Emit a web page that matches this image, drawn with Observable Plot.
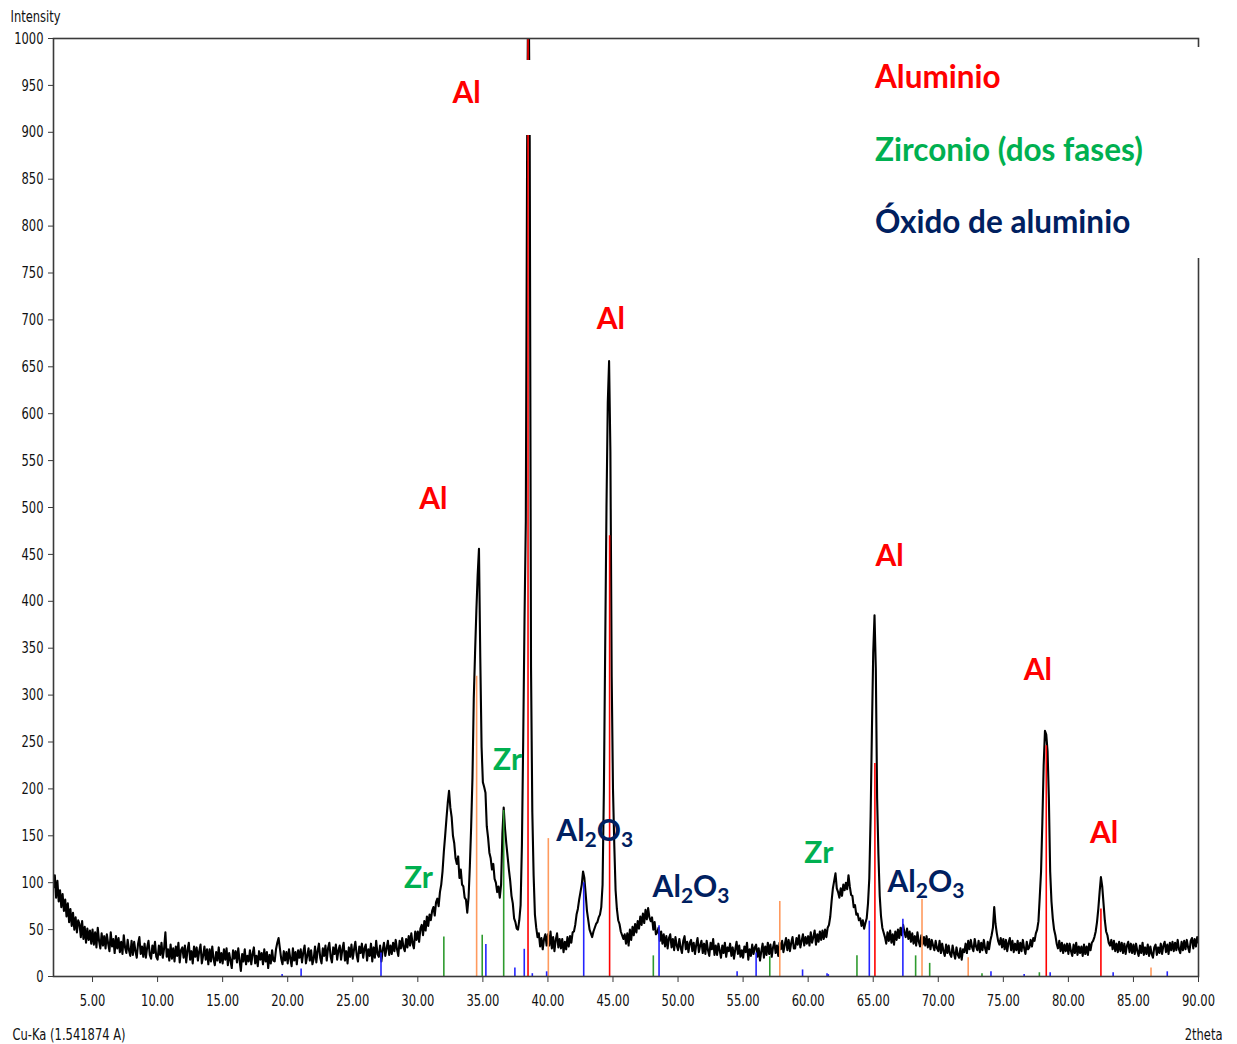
<!DOCTYPE html>
<html>
<head>
<meta charset="utf-8">
<script src="https://cdn.jsdelivr.net/npm/d3@7"></script>
<script src="https://cdn.jsdelivr.net/npm/@observablehq/plot@0.6"></script>
<style>
  body { margin: 0; background: #fff; }
  #chart { position: relative; width: 1237px; height: 1044px; }
  #legend {
    position: absolute; left: 866px; top: 47px; width: 371px; height: 211px;
    background: #fff; font-family: Lato, "Open Sans", sans-serif; font-weight: 700; font-size: 31.5px;
  }
  #legend div { position: absolute; left: 9px; line-height: 1; white-space: nowrap; }
  #peak-mask { position: absolute; left: 506px; top: 60px; width: 38px; height: 75px; background: #fff; }
</style>
</head>
<body>
<div id="chart">
  <div id="peak-mask"></div>
  <div id="legend">
    <div style="top:14px;color:#ff0000">Aluminio</div>
    <div style="top:87px;color:#00b050">Zirconio (dos fases)</div>
    <div style="top:159px;color:#002060">Óxido de aluminio</div>
  </div>
</div>
<script>
// Diffractogram, Cu-Ka radiation, scanned from 2.0° to 90.0° 2θ in 0.1° steps.
const thetaStart = 2.0;
const thetaStep = 0.1;
const counts = [
  95, 108, 84, 102, 80, 92, 74, 88, 70, 82,        // 2°
  64, 78, 58, 72, 54, 68, 50, 63, 47, 60,          // 3°
  56, 42, 59, 40, 53, 36, 51, 39, 49, 35,          // 4°
  50, 34, 47, 31, 52, 38, 30, 46, 33, 43,          // 5°
  30, 45, 35, 27, 47, 32, 40, 25, 43, 30,          // 6°
  41, 26, 37, 24, 44, 31, 25, 39, 28, 22,          // 7°
  38, 23, 37, 27, 20, 35, 42, 24, 32, 21,          // 8°
  35, 20, 31, 38, 23, 19, 33, 25, 37, 21,          // 9°
  18, 33, 23, 36, 20, 30, 47, 21, 29, 17,          // 10°
  34, 19, 30, 16, 32, 22, 36, 15, 28, 31,          // 11°
  20, 33, 15, 28, 36, 18, 27, 14, 32, 21,          // 12°
  31, 17, 27, 34, 14, 22, 32, 18, 29, 13,          // 13°
  29, 16, 32, 19, 12, 26, 17, 31, 15, 25,          // 14°
  14, 29, 18, 30, 12, 25, 17, 9, 28, 19,           // 15°
  27, 15, 30, 17, 6, 24, 16, 29, 13, 22,           // 16°
  16, 28, 13, 24, 31, 14, 22, 11, 27, 18,          // 17°
  25, 13, 29, 16, 26, 9, 23, 14, 28, 17,           // 18°
  16, 29, 36, 41, 30, 19, 13, 27, 17, 26,          // 19°
  14, 29, 19, 11, 30, 17, 26, 13, 28, 20,          // 20°
  29, 15, 26, 33, 14, 22, 30, 17, 28, 13,          // 21°
  19, 32, 15, 27, 35, 20, 14, 30, 22, 33,          // 22°
  17, 30, 36, 21, 15, 31, 24, 34, 18, 28,          // 23°
  33, 18, 29, 36, 17, 27, 14, 31, 21, 34,          // 24°
  19, 29, 37, 23, 16, 32, 25, 35, 20, 30,          // 25°
  34, 17, 29, 22, 35, 16, 31, 20, 38, 24,          // 26°
  21, 33, 16, 28, 36, 22, 30, 38, 23, 33,          // 27°
  24, 36, 27, 39, 29, 22, 38, 30, 41, 31,          // 28°
  27, 40, 31, 43, 33, 46, 35, 30, 48, 39,          // 29°
  48, 37, 51, 55, 44, 59, 49, 64, 54, 66,          // 30°
  60, 70, 74, 65, 79, 83, 75, 90, 98, 112,         // 31°
  133, 150, 168, 185, 198, 180, 170, 150, 142, 126, // 32°
  120, 128, 105, 114, 98, 96, 84, 82, 68, 84,      // 33°
  118, 160, 212, 296, 345, 390, 428, 456, 340, 245, // 34°
  207, 202, 196, 160, 148, 132, 126, 114, 120, 104, // 35°
  100, 90, 96, 84, 98, 152, 180, 158, 142, 128,    // 36°
  114, 102, 86, 78, 62, 58, 51, 50, 60, 76,        // 37°
  140, 252, 380, 485, 880, 1100, 890, 330, 175, 108, // 38°
  66, 52, 42, 46, 32, 41, 29, 40, 45, 33,          // 39°
  45, 33, 48, 30, 42, 27, 39, 46, 31, 40,          // 40°
  30, 40, 26, 37, 29, 42, 32, 43, 36, 47,          // 41°
  48, 55, 66, 72, 82, 90, 98, 112, 105, 88,        // 42°
  70, 60, 50, 46, 42, 48, 52, 56, 58, 63,          // 43°
  66, 74, 98, 198, 350, 500, 612, 656, 560, 320,   // 44°
  200, 140, 92, 72, 60, 56, 48, 44, 40, 45,        // 45°
  35, 46, 33, 50, 39, 53, 44, 56, 47, 59,          // 46°
  51, 64, 55, 67, 57, 71, 61, 73, 63, 59,          // 47°
  63, 50, 58, 45, 47, 52, 38, 48, 35, 45,          // 48°
  32, 43, 30, 41, 45, 31, 40, 28, 42, 33,          // 49°
  28, 40, 31, 25, 38, 43, 29, 37, 26, 36,          // 50°
  39, 27, 36, 24, 34, 41, 26, 33, 38, 25,          // 51°
  35, 24, 38, 28, 22, 36, 29, 40, 23, 33,          // 52°
  23, 35, 28, 20, 33, 25, 36, 21, 31, 27,          // 53°
  35, 22, 31, 19, 29, 37, 24, 33, 21, 28,          // 54°
  20, 32, 26, 36, 18, 29, 22, 34, 24, 31,          // 55°
  34, 21, 30, 17, 27, 35, 20, 32, 23, 36,          // 56°
  24, 34, 21, 31, 37, 25, 33, 22, 36, 29,          // 57°
  38, 26, 34, 41, 28, 39, 27, 36, 42, 30,          // 58°
  30, 41, 34, 44, 31, 38, 45, 33, 42, 35,          // 59°
  43, 33, 47, 36, 42, 49, 34, 45, 37, 48,          // 60°
  39, 49, 40, 50, 42, 52, 55, 64, 80, 94,          // 61°
  102, 110, 94, 90, 84, 94, 86, 98, 92, 100,       // 62°
  93, 108, 96, 87, 86, 74, 76, 66, 67, 60,         // 63°
  62, 54, 60, 51, 57, 62, 78, 105, 170, 262,       // 64°
  345, 385, 328, 190, 130, 86, 64, 52, 47, 42,     // 65°
  35, 47, 38, 49, 36, 45, 34, 48, 39, 50,          // 66°
  41, 52, 44, 55, 47, 42, 51, 40, 48, 37,          // 67°
  46, 35, 43, 33, 47, 37, 32, 44, 34, 42,          // 68°
  33, 43, 31, 40, 29, 39, 33, 28, 38, 30,          // 69°
  27, 38, 25, 35, 27, 22, 34, 25, 33, 24,          // 70°
  21, 33, 25, 19, 31, 23, 20, 30, 18, 29,          // 71°
  26, 35, 25, 38, 29, 39, 31, 27, 40, 32,          // 72°
  28, 38, 26, 36, 28, 39, 30, 25, 37, 29,          // 73°
  38, 44, 52, 74, 56, 46, 38, 34, 41, 31,          // 74°
  40, 29, 39, 27, 36, 41, 28, 38, 26, 35,          // 75°
  28, 38, 25, 36, 27, 39, 30, 24, 37, 29,          // 76°
  31, 39, 32, 41, 38, 46, 50, 59, 85, 112,         // 77°
  165, 225, 262, 258, 240, 190, 112, 80, 62, 50,   // 78°
  44, 35, 30, 38, 27, 36, 25, 34, 27, 35,          // 79°
  24, 35, 27, 22, 34, 25, 36, 23, 32, 25,          // 80°
  32, 22, 34, 24, 32, 23, 35, 28, 36, 38,          // 81°
  42, 48, 58, 72, 90, 106, 96, 78, 60, 48,         // 82°
  44, 36, 33, 39, 29, 38, 27, 35, 26, 37,          // 83°
  27, 36, 25, 35, 24, 33, 37, 26, 35, 25,          // 84°
  34, 24, 35, 27, 22, 33, 25, 36, 23, 31,          // 85°
  24, 34, 22, 32, 24, 20, 31, 34, 23, 31,          // 86°
  25, 35, 24, 33, 37, 26, 34, 24, 36, 28,          // 87°
  37, 27, 36, 28, 39, 29, 25, 37, 28, 38,          // 88°
  29, 39, 31, 26, 38, 41, 30, 40, 32, 42,          // 89°
  36                                                 // 90°
];

// Reference pattern lines per phase: [2θ, relative intensity]
const aluminioLines = [[38.47, 1000], [44.74, 470], [65.13, 227], [78.3, 246], [82.5, 72]];
const zirconioLines = [[32.0, 42], [34.95, 44], [36.6, 177], [48.1, 22], [57.05, 21], [63.75, 22],
                       [68.26, 22], [69.34, 14], [73.36, 3], [77.77, 4]];
const oxidoLines = [[19.57, 2], [21.03, 8], [27.17, 25], [35.23, 34], [37.46, 9], [38.18, 29], [38.8, 3],
                    [39.9, 5], [42.75, 100], [48.54, 54], [54.54, 5], [56.0, 25], [59.57, 7], [61.45, 3],
                    [61.55, 2], [64.7, 59], [67.28, 61], [74.05, 5], [76.6, 2], [78.6, 4], [83.44, 4], [87.6, 5]];
const otherLines = [[34.52, 320], [40.03, 147], [57.82, 80], [68.75, 82], [72.3, 20], [86.35, 9]];

// Peak annotations (2θ, intensity, phase)
const peakLabels = [
  {theta: 33.75, counts: 942, phase: "Al"},
  {theta: 44.83, counts: 701, phase: "Al"},
  {theta: 31.2,  counts: 509, phase: "Al"},
  {theta: 66.26, counts: 448, phase: "Al"},
  {theta: 77.65, counts: 326, phase: "Al"},
  {theta: 82.74, counts: 153, phase: "Al"},
  {theta: 30.05, counts: 105, phase: "Zr"},
  {theta: 36.9,  counts: 230, phase: "Zr"},
  {theta: 60.82, counts: 131, phase: "Zr"},
  {theta: 43.6,  counts: 155, phase: "Al2O3"},
  {theta: 51.0,  counts: 95,  phase: "Al2O3"},
  {theta: 69.05, counts: 100, phase: "Al2O3"}
];

const xTicks = [5, 10, 15, 20, 25, 30, 35, 40, 45, 50, 55, 60, 65, 70, 75, 80, 85, 90];
const yTicks = [0, 50, 100, 150, 200, 250, 300, 350, 400, 450, 500, 550, 600, 650, 700, 750, 800, 850, 900, 950, 1000];
const captions = ["Intensity", "Cu-Ka (1.541874 A)", "2theta"];

const labelColors = {Al: "#ff0000", Zr: "#00b050", Al2O3: "#002060"};
const lineColors = {Al: "#ff0000", Zr: "#2e9b2e", Al2O3: "#2424ff", other: "#ff9a5e"};

const trace = counts.map((c, i) => ({theta: thetaStart + i * thetaStep, counts: c}));
const toLines = (rows, phase) => rows.map(([theta, c]) => ({theta, counts: c, phase}));
const patternLines = [
  ...toLines(otherLines, "other"),
  ...toLines(oxidoLines, "Al2O3"),
  ...toLines(zirconioLines, "Zr"),
  ...toLines(aluminioLines, "Al")
];

const axisFont = '"DejaVu Sans", Verdana, sans-serif';

const chart = Plot.plot({
  width: 1237,
  height: 1044,
  marginLeft: 53,
  marginRight: 39,
  marginTop: 38,
  marginBottom: 68,
  style: {fontFamily: axisFont, fontSize: "16px", color: "#111", background: "#fff"},
  x: {domain: [2, 90]},
  y: {domain: [0, 1000]},
  marks: [
    Plot.line(trace, {x: "theta", y: "counts", stroke: "#000", strokeWidth: 2.1, clip: true}),
    Plot.ruleX(patternLines, {x: "theta", y1: 0, y2: "counts", stroke: d => lineColors[d.phase], strokeWidth: 1.6, clip: true}),
    Plot.text(peakLabels, {
      x: "theta", y: "counts", text: "phase",
      fill: d => labelColors[d.phase],
      fontFamily: "Lato, 'Open Sans', sans-serif", fontWeight: 700, fontSize: 30
    }),
    Plot.frame({stroke: "#3a3a3a", strokeWidth: 1.6}),
    Plot.axisY({ticks: yTicks, tickSize: 5, tickPadding: 5, label: null, tickFormat: d => String(d), stroke: "#3a3a3a"}),
    Plot.axisX({ticks: xTicks, tickSize: 6, tickPadding: 12, label: null, tickFormat: d => d.toFixed(2), stroke: "#3a3a3a"}),
    Plot.text([captions[0]], {frameAnchor: "top-left", textAnchor: "start", lineAnchor: "middle", dx: -43, dy: -22}),
    Plot.text([captions[1]], {frameAnchor: "bottom-left", textAnchor: "start", lineAnchor: "middle", dx: -41, dy: 58}),
    Plot.text([captions[2]], {frameAnchor: "bottom-right", textAnchor: "end", lineAnchor: "middle", dx: 24, dy: 58})
  ]
});

// Typeset the oxide formula with subscripts
d3.select(chart).selectAll("text")
  .filter(function () { return this.textContent === "Al2O3"; })
  .each(function () {
    const t = d3.select(this).text(null);
    t.append("tspan").text("Al");
    t.append("tspan").attr("dy", 6).attr("font-size", 21).text("2");
    t.append("tspan").attr("dy", -6).text("O");
    t.append("tspan").attr("dy", 6).attr("font-size", 21).text("3");
  });

document.getElementById("chart").prepend(chart);

// Narrow the axis lettering, in the style of the instrument software
const narrowText = el => {
  const len = el.getComputedTextLength();
  el.setAttribute("textLength", (len * 0.72).toFixed(1));
  el.setAttribute("lengthAdjust", "spacingAndGlyphs");
};
chart.querySelectorAll('g[aria-label$="tick label"] text').forEach(narrowText);
chart.querySelectorAll("text").forEach(el => {
  if (captions.includes(el.textContent)) narrowText(el);
});
</script>
</body>
</html>
